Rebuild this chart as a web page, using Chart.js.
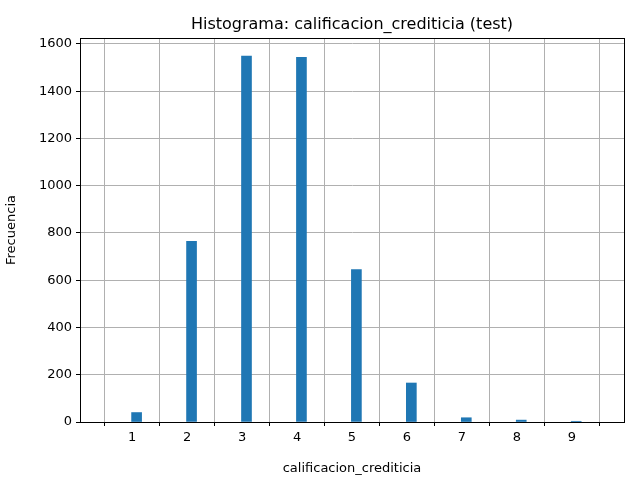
<!DOCTYPE html>
<html>
<head>
<script src="https://cdn.jsdelivr.net/npm/chart.js@4"></script>
<style>body{margin:0;background:#fff}</style>
</head>
<body>
<canvas id="c" width="640" height="480"></canvas>
<script>
const categories = [1, 2, 3, 4, 5, 6, 7, 8, 9];
const counts = [40, 765, 1548, 1543, 645, 165, 18, 8, 3];
const xTicks = [1, 2, 3, 4, 5, 6, 7, 8, 9];
const yTicks = [0, 200, 400, 600, 800, 1000, 1200, 1400, 1600];
const binWidth = 0.16;
const titleText = 'Histograma: calificacion_crediticia (test)';

const font = { family: 'DejaVu Sans', size: 13 };

// axes frame + title centred on the plot area, like matplotlib
const frame = {
  id: 'frame',
  afterDraw(chart) {
    const a = chart.chartArea, ctx = chart.ctx;
    ctx.save();
    ctx.strokeStyle = '#000';
    ctx.lineWidth = 1;
    ctx.strokeRect(Math.round(a.left) + 0.5, Math.round(a.top) + 0.5, Math.round(a.right - a.left), Math.round(a.bottom - a.top));
    ctx.fillStyle = '#000';
    ctx.font = '16px "DejaVu Sans"';
    ctx.textAlign = 'center';
    ctx.textBaseline = 'alphabetic';
    ctx.fillText(titleText, (a.left + a.right) / 2, a.top - 9);
    ctx.restore();
  }
};

new Chart(document.getElementById('c'), {
  type: 'bar',
  data: {
    datasets: [{
      data: categories.map((c, i) => ({ x: c + binWidth / 2, y: counts[i] })),
      backgroundColor: '#1f77b4',
      barThickness: 10,
      grouped: false
    }]
  },
  options: {
    responsive: false,
    animation: false,
    devicePixelRatio: 1,
    layout: { padding: { left: 0, right: 16, top: 38, bottom: 0 } },
    plugins: {
      legend: { display: false },
      tooltip: { enabled: false },
      title: { display: false }
    },
    scales: {
      x: {
        type: 'linear',
        min: 0.6,
        max: 9.4,
        z: 1,
        afterBuildTicks: s => { s.ticks = xTicks.map(v => ({ value: v })); },
        afterFit: s => { s.height = 58; },
        ticks: { color: '#000', font, padding: 4, maxRotation: 0, callback: v => String(v) },
        grid: { color: '#b0b0b0', tickColor: '#000', tickLength: 4 },
        border: { color: '#000' },
        title: { display: true, text: 'calificacion_crediticia', color: '#000', font, padding: { top: 2 } }
      },
      y: {
        min: 0,
        max: 1625,
        z: 1,
        afterBuildTicks: s => { s.ticks = yTicks.map(v => ({ value: v })); },
        afterFit: s => { s.width = 80; },
        ticks: { color: '#000', font, padding: 4, callback: v => String(v) },
        grid: { color: '#b0b0b0', tickColor: '#000', tickLength: 4 },
        border: { color: '#000' },
        title: { display: true, text: 'Frecuencia', color: '#000', font, padding: { bottom: 4 } }
      }
    }
  },
  plugins: [frame]
});
</script>
</body>
</html>
